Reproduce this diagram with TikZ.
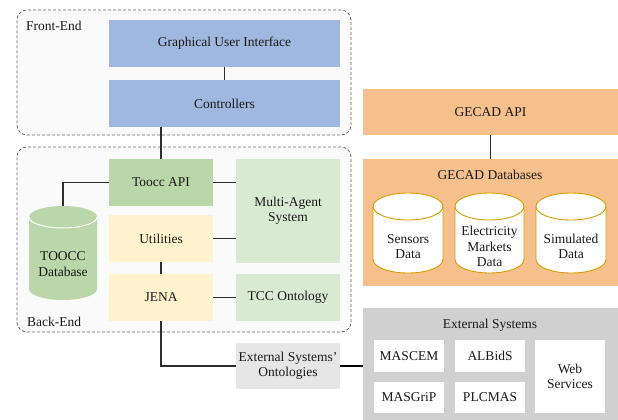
\documentclass[tikz,border=0pt]{standalone}
\usepackage{fontspec}
\setmainfont{Liberation Serif}

\definecolor{feblue}{RGB}{160,184,224}
\definecolor{apigreen}{RGB}{185,215,168}
\definecolor{lightgreen}{RGB}{217,234,211}
\definecolor{cream}{RGB}{255,242,204}
\definecolor{gecad}{RGB}{245,192,140}
\definecolor{gold}{RGB}{215,155,0}
\definecolor{extgrey}{RGB}{208,208,208}
\definecolor{ontgrey}{RGB}{230,230,230}
\definecolor{wire}{RGB}{45,45,45}
\definecolor{dashgrey}{RGB}{105,105,105}
\definecolor{panel}{RGB}{250,250,250}
\definecolor{txt}{RGB}{25,25,25}

\newcommand\fs{\fontsize{13.5}{15.5}\selectfont}

% database cylinder: name, x1, x2, ytop, ybot, ry, body style, rim style, text
\newcommand\dbcyl[9]{%
  \path[#7] (#2,{#4+#6}) -- (#2,{#5-#6})
    arc[start angle=180, end angle=0, x radius={(#3-#2)/2}, y radius=#6]
    -- (#3,{#4+#6})
    arc[start angle=0, end angle=-180, x radius={(#3-#2)/2}, y radius=#6] -- cycle;
  \draw[#8] (#2,{#4+#6})
    arc[start angle=180, end angle=0, x radius={(#3-#2)/2}, y radius=#6];
  \coordinate (#1-top) at ({(#2+#3)/2},#4);
  \node[font=\fs, text=txt, align=center, inner sep=0pt] (#1)
    at ({(#2+#3)/2},{(#4+2*#6+#5)/2}) {#9};
}

\tikzset{
  box/.style={rectangle, draw=none, inner sep=2pt, align=center, font=\fs, text=txt},
  fe/.style={box, fill=feblue, minimum width=231pt, minimum height=47pt},
  small/.style={box, minimum width=104pt, minimum height=47pt},
  panelbox/.style={rectangle, rounded corners=10pt, draw=dashgrey, fill=panel,
    line width=0.8pt, dash pattern=on 3pt off 2pt},
  whitebox/.style={box, fill=white, minimum width=70pt},
  lbl/.style={font=\fs, text=txt, inner sep=0pt},
  wireline/.style={draw=wire, line width=1.1pt},
}

\begin{document}
\begin{tikzpicture}[x=1pt, y=-1pt]
\useasboundingbox (0,0) rectangle (618,420);

% dashed tiers
\node[panelbox, minimum width=334pt, minimum height=125pt] (front) at (184,72.5) {};
\node[panelbox, minimum width=334pt, minimum height=185pt] (back) at (184,239.5) {};
\node[lbl, anchor=west] (frontlbl) at (26,26) {Front-End};
\node[lbl, anchor=west] (backlbl) at (27,322) {Back-End};

% front-end
\node[fe] (gui) at (224.5,43.5) {Graphical User Interface};
\node[fe] (ctrl) at (224.5,103.5) {Controllers};

% back-end
\node[small, fill=apigreen] (toocc) at (161,182.5) {Toocc API};
\node[small, fill=cream] (util) at (161,238.5) {Utilities};
\node[small, fill=cream] (jena) at (161,297.5) {JENA};
\node[small, fill=lightgreen, minimum height=104pt] (mas) at (288,211) {Multi-Agent\\System};
\node[small, fill=lightgreen] (tcc) at (288,297.5) {TCC Ontology};
\dbcyl{tdb}{29}{97}{206}{300}{11}{fill=apigreen}{draw=white, line width=1pt}{TOOCC\\Database}

% ontologies of the external systems
\node[small, fill=ontgrey, minimum height=46pt] (extont) at (288,366) {External Systems'\\Ontologies};

% GECAD side
\node[box, fill=gecad, minimum width=255pt, minimum height=46pt] (gapi) at (490.5,112) {GECAD API};
\node[box, fill=gecad, minimum width=255pt, minimum height=127pt] (gdb) at (490.5,222.5) {};
\node[lbl] (gdblbl) at (490,175) {GECAD Databases};
\dbcyl{sens}{373}{443}{193}{273}{13.5}{fill=white, draw=gold, line width=0.9pt}{draw=gold, line width=0.9pt}{Sensors\\Data}
\dbcyl{elec}{455}{524}{193}{273}{13.5}{fill=white, draw=gold, line width=0.9pt}{draw=gold, line width=0.9pt}{Electricity\\Markets\\Data}
\dbcyl{simu}{536}{606}{193}{273}{13.5}{fill=white, draw=gold, line width=0.9pt}{draw=gold, line width=0.9pt}{Simulated\\Data}

% external systems
\node[box, fill=extgrey, minimum width=255pt, minimum height=112pt] (ext) at (490.5,364) {};
\node[lbl] (extlbl) at (490,325) {External Systems};
\node[whitebox, minimum height=32pt] (mascem) at (409,356) {MASCEM};
\node[whitebox, minimum height=32pt] (albids) at (490,356) {ALBidS};
\node[whitebox, minimum height=31pt] (masgrip) at (409,397.5) {MASGriP};
\node[whitebox, minimum height=31pt] (plcmas) at (490,397.5) {PLCMAS};
\node[whitebox, minimum height=73pt] (websvc) at (570,376.5) {Web\\Services};

% connectors
\draw[wireline] (gui.south) -- (ctrl.north);
\draw[wireline] (toocc.north |- ctrl.south) -- (toocc.north);
\draw[wireline] (toocc.west) -| (tdb-top);
\draw[wireline] (toocc.east) -- (toocc.east -| mas.west);
\draw[wireline] (util.east) -- (util.east -| mas.west);
\draw[wireline] (util.south) -- (jena.north);
\draw[wireline] (jena.east) -- (tcc.west);
\draw[wireline] (jena.south) |- (extont.west);
\draw[draw=black, line width=2.2pt] (extont.east) -- (extont.east -| ext.west);
\draw[wireline] (gapi.south) -- (gdb.north);
\end{tikzpicture}
\end{document}
